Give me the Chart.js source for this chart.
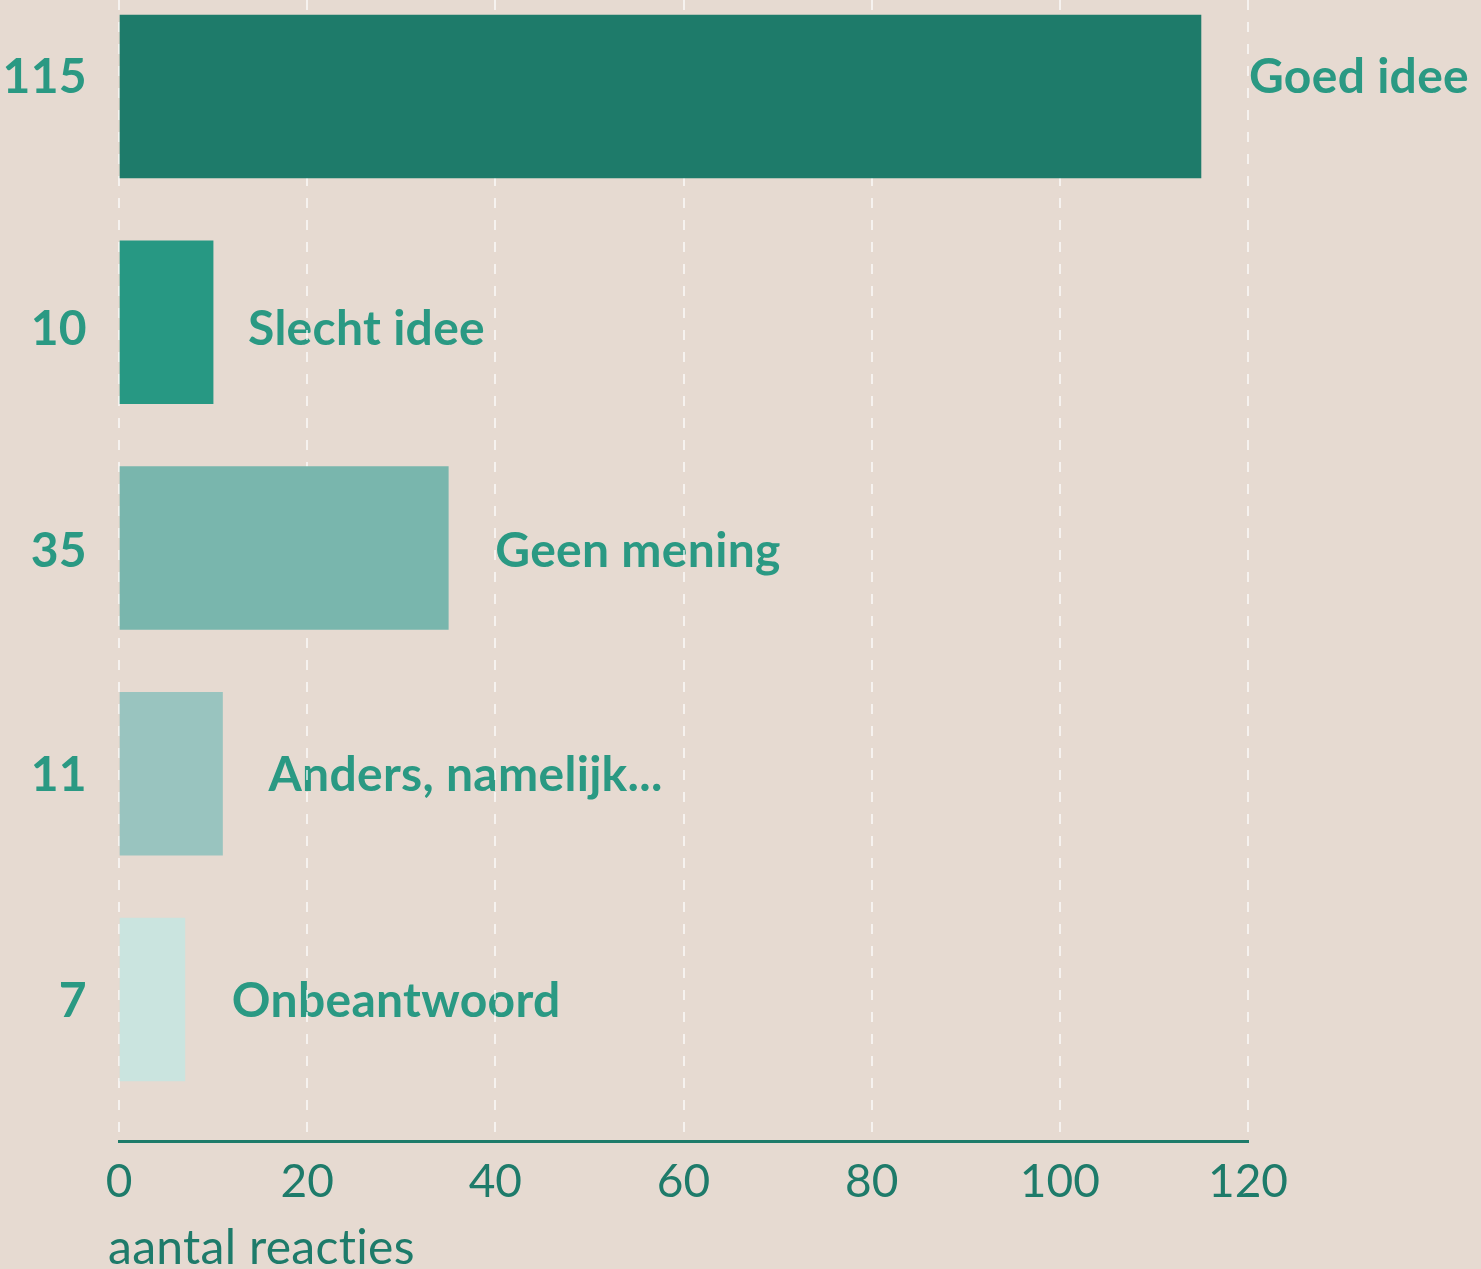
<!DOCTYPE html>
<html lang="nl">
<head>
<meta charset="UTF-8">
<title>Aantal reacties</title>
<script src="https://cdn.jsdelivr.net/npm/chart.js@4.4.1/dist/chart.umd.min.js"></script>
<style>
  html, body { margin: 0; padding: 0; background: #e6dad1; }
  #wrap { width: 1481px; height: 1269px; }
</style>
</head>
<body>
<div id="wrap"><canvas id="grafiek" width="1481" height="1269"></canvas></div>
<script>
// gegevens
const categorieen = ['Goed idee', 'Slecht idee', 'Geen mening', 'Anders, namelijk...', 'Onbeantwoord'];
const aantallen = [115, 10, 35, 11, 7];
const xTicks = [0, 20, 40, 60, 80, 100, 120];
const asTitel = 'aantal reacties';

// opmaak
const kleuren = ['#1e7b6a', '#279883', '#79b6ad', '#99c4bf', '#cae4df'];
// px, labels staan niet precies midden op / naast de staaf
const labelVerschuivingY = [-21, 6, 2, 0, 1];
const labelVerschuivingX = [2, -11, 1, 0, 1];
const FONT = 'Lato';

const labelPlugin = {
  id: 'staafLabels',
  beforeDraw(chart) {
    const { ctx, scales: { x, y } } = chart;
    ctx.save();
    ctx.letterSpacing = '0.3px';
    ctx.fillStyle = '#2a9983';
    ctx.font = '700 48px ' + FONT;
    ctx.textBaseline = 'alphabetic';
    aantallen.forEach((v, i) => {
      const py = y.getPixelForValue(i) + labelVerschuivingY[i] + 17;
      ctx.textAlign = 'right';
      ctx.fillText(String(v), x.left - 32, py);
      ctx.textAlign = 'left';
      ctx.fillText(categorieen[i], x.getPixelForValue(v) + 46 + labelVerschuivingX[i], py);
    });
    ctx.fillStyle = '#1e7b6a';
    ctx.font = '400 48px ' + FONT;
    ctx.fillText(asTitel, x.left - 11, x.bottom - 5);
    ctx.restore();
  }
};

new Chart(document.getElementById('grafiek'), {
  type: 'bar',
  data: {
    labels: categorieen,
    datasets: [{
      label: asTitel,
      data: aantallen.map((v, i) => ({ x: v, y: i })),
      backgroundColor: kleuren,
      borderWidth: 0,
      barThickness: 163
    }]
  },
  options: {
    indexAxis: 'y',
    responsive: false,
    animation: false,
    devicePixelRatio: 1,
    layout: { padding: { top: 0, right: 233, bottom: 0, left: 0 } },
    plugins: { legend: { display: false }, tooltip: { enabled: false } },
    scales: {
      x: {
        type: 'linear',
        min: 0,
        max: 120,
        afterBuildTicks: s => { s.ticks = xTicks.map(v => ({ value: v })); },
        afterFit: s => { s.height = 128; },
        ticks: { color: '#1e7b6a', font: { family: FONT, size: 46 }, padding: 14, maxRotation: 0 },
        grid: { color: 'rgba(255,255,255,0.65)', lineWidth: 2, drawTicks: false },
        border: { display: true, color: '#1e7b6a', width: 3, dash: [10, 12] }
      },
      y: {
        type: 'linear',
        reverse: true,
        offset: false,
        min: -0.4275,
        max: 4.627,
        afterFit: s => { s.width = 119; },
        ticks: { display: false },
        grid: { display: false },
        border: { display: false }
      }
    }
  },
  plugins: [labelPlugin]
});
</script>
</body>
</html>
